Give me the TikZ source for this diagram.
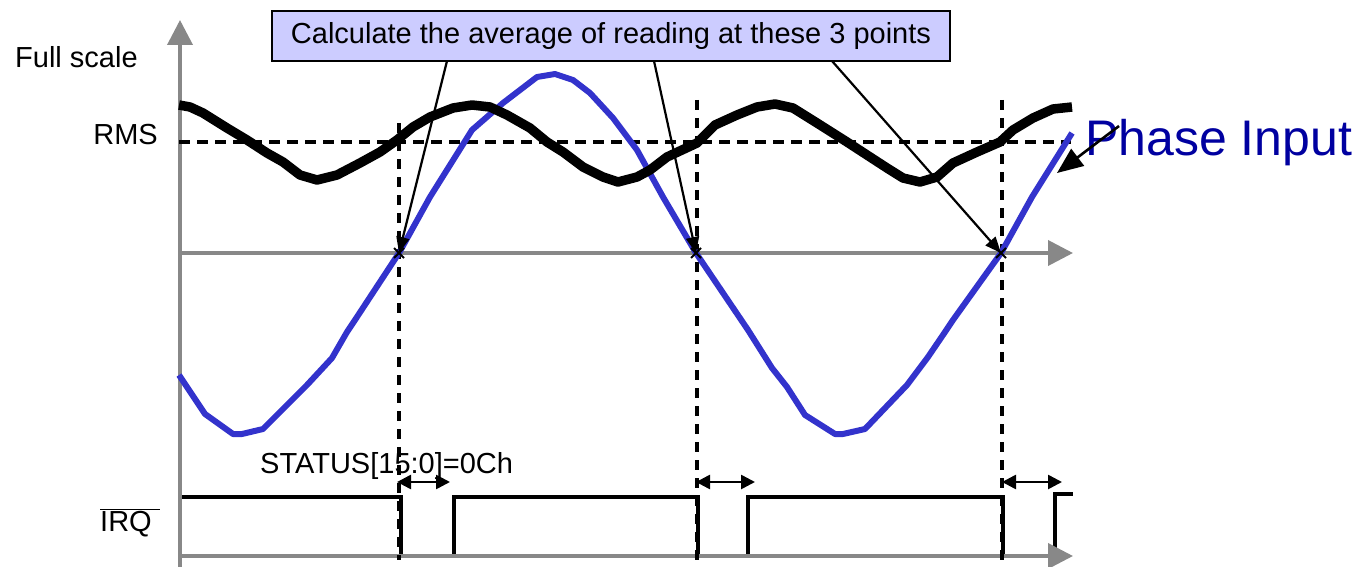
\documentclass[tikz,border=0pt]{standalone}
\usepackage{fontspec}
\setmainfont{Liberation Sans}
\usetikzlibrary{arrows.meta}
\definecolor{axisgray}{RGB}{136,136,136}
\definecolor{sinblue}{RGB}{51,51,204}
\definecolor{labelblue}{RGB}{0,0,160}
\definecolor{calloutfill}{RGB}{204,204,255}
\tikzset{
  gaxis/.style={draw=axisgray, line width=3.8pt, -{Triangle[length=25pt,width=25pt]}},
  dline/.style={draw=black, line width=3.4pt, dash pattern=on 11pt off 7pt},
  vdline/.style={draw=black, line width=3.4pt, dash pattern=on 10pt off 8pt},
  sinwave/.style={draw=sinblue, line width=6pt, line join=round},
  rmswave/.style={draw=black, line width=9.5pt, line join=round},
  callarrow/.style={draw=black, line width=2.2pt, -{Triangle[length=16pt,width=13pt]}},
  dimarrow/.style={draw=black, line width=2.6pt, {Triangle[length=14pt,width=14pt]}-{Triangle[length=14pt,width=14pt]}},
  irqwave/.style={draw=black, line width=4pt},
  lbl/.style={inner sep=0pt, font=\fontsize{29}{34}\selectfont},
  xmark/.style={draw=black, line width=1.8pt},
}
\begin{document}
\begin{tikzpicture}[x=1pt,y=-1pt]
\useasboundingbox (0,0) rectangle (1365,567);
% coordinates
\coordinate (ybot) at (180,567);
\coordinate (ytop) at (180,20);
\coordinate (mleft) at (179,253);
\coordinate (mright) at (1073,253);
\coordinate (bleft) at (179,556);
\coordinate (bright) at (1073,556);
\coordinate (rmsl) at (179,142);
\coordinate (rmsr) at (1071,142);
\coordinate (c1) at (399,253);
\coordinate (c2) at (696,253);
\coordinate (c3) at (1001,253);
\coordinate (v1t) at (399,123);
\coordinate (v1b) at (399,560);
\coordinate (v2t) at (697,100);
\coordinate (v2b) at (697,560);
\coordinate (v3t) at (1002,100);
\coordinate (v3b) at (1002,560);
% IRQ waveform (low level lies on the axis)
\draw[irqwave] (179,497) -- (401,497) -- (401,556);
\draw[irqwave] (454,556) -- (454,497) -- (698,497) -- (698,556);
\draw[irqwave] (748,556) -- (748,497) -- (1003,497) -- (1003,556);
\draw[irqwave] (1055,556) -- (1055,494) -- (1073,494);
% axes
\draw[gaxis] (ybot) -- (ytop);
\draw[gaxis] (mleft) -- (mright);
\draw[gaxis] (bleft) -- (bright);
% dashed lines
\draw[dline] (rmsl) -- (rmsr);
\draw[vdline] (v1t) -- (v1b);
\draw[vdline] (v2t) -- (v2b);
\draw[vdline] (v3t) -- (v3b);
% blue sine
\draw[sinwave] (179,375) -- (205,414) -- (233,434) -- (242,434) -- (263,429) -- (307,385) -- (332,358) -- (347,332) -- (355,320) -- (399,253) -- (430,197) -- (472,130) -- (503,103) -- (537,77) -- (555,74) -- (573,80) -- (590,93) -- (613,118) -- (637,150) -- (663,197) -- (696,253) -- (748,330) -- (772,368) -- (787,387) -- (805,415) -- (835,434) -- (843,434) -- (865,429) -- (907,385) -- (928,357) -- (945,332) -- (953,320) -- (1001,253) -- (1032,197) -- (1072,133);
% black wobble
\draw[rmswave] (179,105) -- (190,107) -- (203,113) -- (227,128) -- (247,140) -- (267,153) -- (283,162) -- (300,175) -- (317,180) -- (337,175) -- (360,163) -- (380,152) -- (397,140) -- (413,127) -- (430,117) -- (453,108) -- (472,105) -- (490,107) -- (507,115) -- (530,128) -- (547,142) -- (563,152) -- (583,167) -- (603,177) -- (618,182) -- (637,177) -- (650,170) -- (667,157) -- (697,143) -- (715,125) -- (737,115) -- (757,107) -- (775,104) -- (793,108) -- (817,123) -- (847,142) -- (867,155) -- (887,168) -- (903,178) -- (920,182) -- (937,177) -- (953,163) -- (977,152) -- (1000,142) -- (1013,130) -- (1033,118) -- (1053,109) -- (1072,107);
% crossing marks
\foreach \c in {c1,c2,c3}{
  \draw[xmark] ([shift={(-5,-5)}]\c) -- ([shift={(5,5)}]\c);
  \draw[xmark] ([shift={(-5,5)}]\c) -- ([shift={(5,-5)}]\c);
}
% callout
\node[lbl, draw=black, line width=2.6pt, fill=calloutfill, minimum width=678pt, minimum height=50pt] (box) at (611,36) {Calculate the average of reading at these 3 points};
\coordinate (s1) at (447,61);
\coordinate (s2) at (654,61);
\coordinate (s3) at (832,61);
\draw[callarrow] (s1) -- (c1);
\draw[callarrow] (s2) -- (c2);
\draw[callarrow] (s3) -- (c3);
% labels
\node[lbl, anchor=base west] (fs) at (15,68) {Full scale};
\node[lbl, anchor=base east] (rms) at (158,145) {RMS};
\node[inner sep=0pt, anchor=base west, text=labelblue, font=\fontsize{50}{60}\selectfont] (phase) at (1085,155) {Phase Input};
\coordinate (pa) at (1119,126);
\coordinate (pt) at (1057,173);
\draw[draw=black, line width=2.6pt, -{Triangle[length=26pt,width=21pt]}] (pa) -- (pt);
\node[lbl, anchor=base west] (status) at (260,473) {STATUS[15:0]=0Ch};
\node[lbl, anchor=base west] (irq) at (100,531) {$\overline{\mbox{IRQ\hspace{8pt}}}$};
% dimension arrows
\coordinate (d1a) at (397,482); \coordinate (d1b) at (450,482);
\coordinate (d2a) at (696,482); \coordinate (d2b) at (755,482);
\coordinate (d3a) at (1002,482); \coordinate (d3b) at (1062,482);
\draw[dimarrow] (d1a) -- (d1b);
\draw[dimarrow] (d2a) -- (d2b);
\draw[dimarrow] (d3a) -- (d3b);
\end{tikzpicture}
\end{document}
